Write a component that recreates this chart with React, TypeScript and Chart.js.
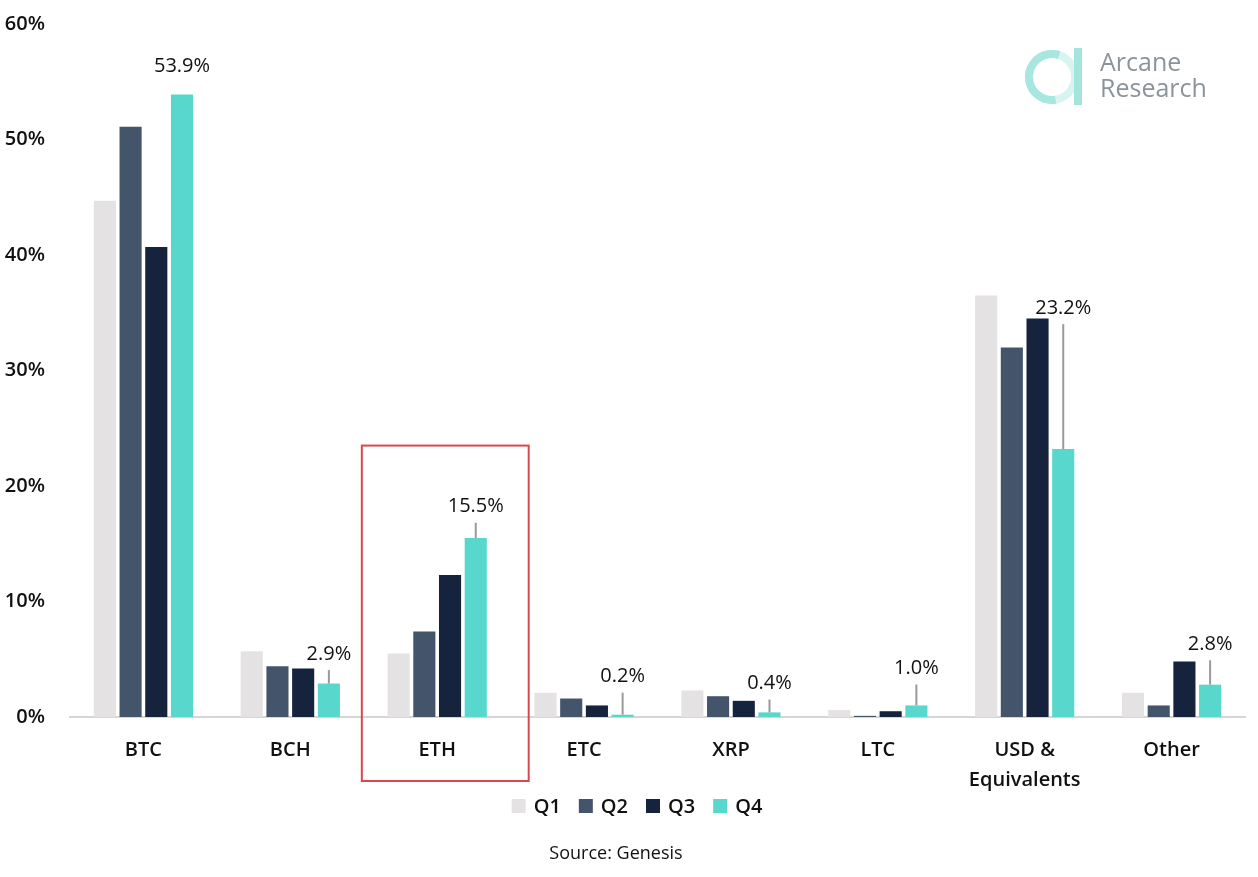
import React, { useEffect, useRef } from "react";
import { Chart, registerables } from "chart.js";

Chart.register(...registerables);

const categories: (string | string[])[] = ["BTC", "BCH", "ETH", "ETC", "XRP", "LTC", ["USD &", "Equivalents"], "Other"];
const seriesNames = ["Q1", "Q2", "Q3", "Q4"];
const q1 = [44.7, 5.7, 5.5, 2.1, 2.3, 0.6, 36.5, 2.1];
const q2 = [51.1, 4.4, 7.4, 1.6, 1.8, 0.1, 32.0, 1.0];
const q3 = [40.7, 4.2, 12.3, 1.0, 1.4, 0.5, 34.5, 4.8];
const q4 = [53.9, 2.9, 15.5, 0.2, 0.4, 1.0, 23.2, 2.8];
const q4Labels = ["53.9%", "2.9%", "15.5%", "0.2%", "0.4%", "1.0%", "23.2%", "2.8%"];
const q4LabelLevel = [56.3, 5.45, 18.2, 3.5, 2.9, 4.2, 35.4, 6.3];
const q4Leader = [false, true, true, true, true, true, true, true];
const yTicks = [0, 10, 20, 30, 40, 50, 60];
const highlightIndex = 2;
const highlightTop = 23.5;
const colors = ["#e5e2e3", "#44546a", "#15233d", "#58d7cd"];
const FONT = "'Open Sans', 'Noto Sans', sans-serif";

const overlayPlugin = {
  id: "overlay",
  afterDatasetsDraw(chart: any) {
    const ctx = chart.ctx;
    const x = chart.scales.x;
    const y = chart.scales.y;
    const meta = chart.getDatasetMeta(3);
    ctx.save();
    ctx.font = `400 20px ${FONT}`;
    ctx.fillStyle = "#111111";
    ctx.textAlign = "center";
    ctx.textBaseline = "middle";
    meta.data.forEach((bar: any, i: number) => {
      const ly = y.getPixelForValue(q4LabelLevel[i]);
      ctx.fillText(q4Labels[i], bar.x, ly);
      const lineStart = ly + 16;
      const lineEnd = bar.y;
      if (q4Leader[i] && lineEnd > lineStart) {
        ctx.strokeStyle = "#9a9a9a";
        ctx.lineWidth = 2;
        ctx.beginPath();
        ctx.moveTo(bar.x, lineStart);
        ctx.lineTo(bar.x, lineEnd);
        ctx.stroke();
      }
    });
    const cw = x.getPixelForValue(1) - x.getPixelForValue(0);
    const cx = x.getPixelForValue(highlightIndex) + cw * 0.055;
    const half = cw * 0.568;
    const top = y.getPixelForValue(highlightTop);
    const bottom = y.getPixelForValue(0) + 64;
    ctx.strokeStyle = "#d9484c";
    ctx.lineWidth = 2;
    ctx.strokeRect(cx - half, top, half * 2, bottom - top);
    ctx.restore();
  },
  afterDraw(chart: any) {
    const ctx = chart.ctx;
    ctx.save();
    ctx.font = `600 20px ${FONT}`;
    ctx.textBaseline = "middle";
    ctx.textAlign = "left";
    const sq = 14;
    const gapAfterSq = 8;
    const gapItems = 18;
    const widths = seriesNames.map((n) => ctx.measureText(n).width);
    const total = widths.reduce((a, w) => a + sq + gapAfterSq + w, 0) + gapItems * (seriesNames.length - 1);
    let lx = 637 - total / 2;
    const ly = 806;
    seriesNames.forEach((n, i) => {
      ctx.fillStyle = colors[i];
      ctx.fillRect(lx, ly - sq / 2, sq, sq);
      lx += sq + gapAfterSq;
      ctx.fillStyle = "#111111";
      ctx.fillText(n, lx, ly + 1);
      lx += widths[i] + gapItems;
    });
    ctx.font = `400 18px ${FONT}`;
    ctx.textAlign = "center";
    ctx.fillStyle = "#111111";
    ctx.fillText("Source: Genesis", 616, 854);
    // logo
    ctx.lineWidth = 8;
    ctx.strokeStyle = "#d8f4f1";
    ctx.beginPath();
    ctx.arc(1052, 77, 23, 0, Math.PI * 2);
    ctx.stroke();
    ctx.strokeStyle = "#a8e6e0";
    ctx.beginPath();
    ctx.arc(1052, 77, 23, Math.PI * 0.45, Math.PI * 1.6);
    ctx.stroke();
    ctx.fillStyle = "#a3e4dd";
    ctx.fillRect(1074, 48, 8, 57);
    ctx.fillStyle = "#8a949a";
    ctx.font = `400 25px ${FONT}`;
    ctx.textAlign = "left";
    ctx.fillText("Arcane", 1100, 64);
    ctx.fillText("Research", 1100, 90);
    ctx.restore();
  },
};

export default function App() {
  const ref = useRef<HTMLCanvasElement | null>(null);
  useEffect(() => {
    document.body.style.margin = "0";
    document.body.style.overflow = "hidden";
    const chart = new Chart(ref.current as HTMLCanvasElement, {
      type: "bar",
      data: {
        labels: categories,
        datasets: [q1, q2, q3, q4].map((d, i) => ({
          label: seriesNames[i],
          data: d,
          backgroundColor: colors[i],
          borderWidth: 0,
          categoryPercentage: 0.7,
          barPercentage: 0.86,
        })),
      },
      options: {
        animation: false,
        responsive: false,
        devicePixelRatio: 1,
        layout: { padding: { top: 24, right: 13, bottom: 0, left: 0 } },
        plugins: { legend: { display: false }, tooltip: { enabled: false } },
        scales: {
          x: {
            grid: { display: false, drawTicks: false },
            border: { display: true, color: "#d6d6d6", width: 2 },
            ticks: {
              font: { family: FONT, size: 20, weight: "600", lineHeight: 1.5 },
              color: "#111111",
              padding: 18,
              maxRotation: 0,
              autoSkip: false,
            },
            afterFit: (s: any) => {
              s.height = 160;
              s.paddingLeft = 0;
              s.paddingRight = 0;
            },
          },
          y: {
            min: 0,
            max: 60,
            afterBuildTicks: (s: any) => {
              s.ticks = yTicks.map((v) => ({ value: v }));
            },
            grid: { display: false, drawTicks: false },
            border: { display: false },
            ticks: {
              font: { family: FONT, size: 20, weight: "600" },
              color: "#111111",
              padding: 25,
              callback: (v: any) => `${v}%`,
            },
            afterFit: (s: any) => {
              s.width = 70;
              s.paddingTop = 0;
              s.paddingBottom = 0;
            },
          },
        },
      },
      plugins: [overlayPlugin],
    });
    return () => chart.destroy();
  }, []);
  return (
    <div style={{ width: 1258, height: 877, background: "#fff" }}>
      <canvas ref={ref} width={1258} height={877} style={{ display: "block" }} />
    </div>
  );
}
